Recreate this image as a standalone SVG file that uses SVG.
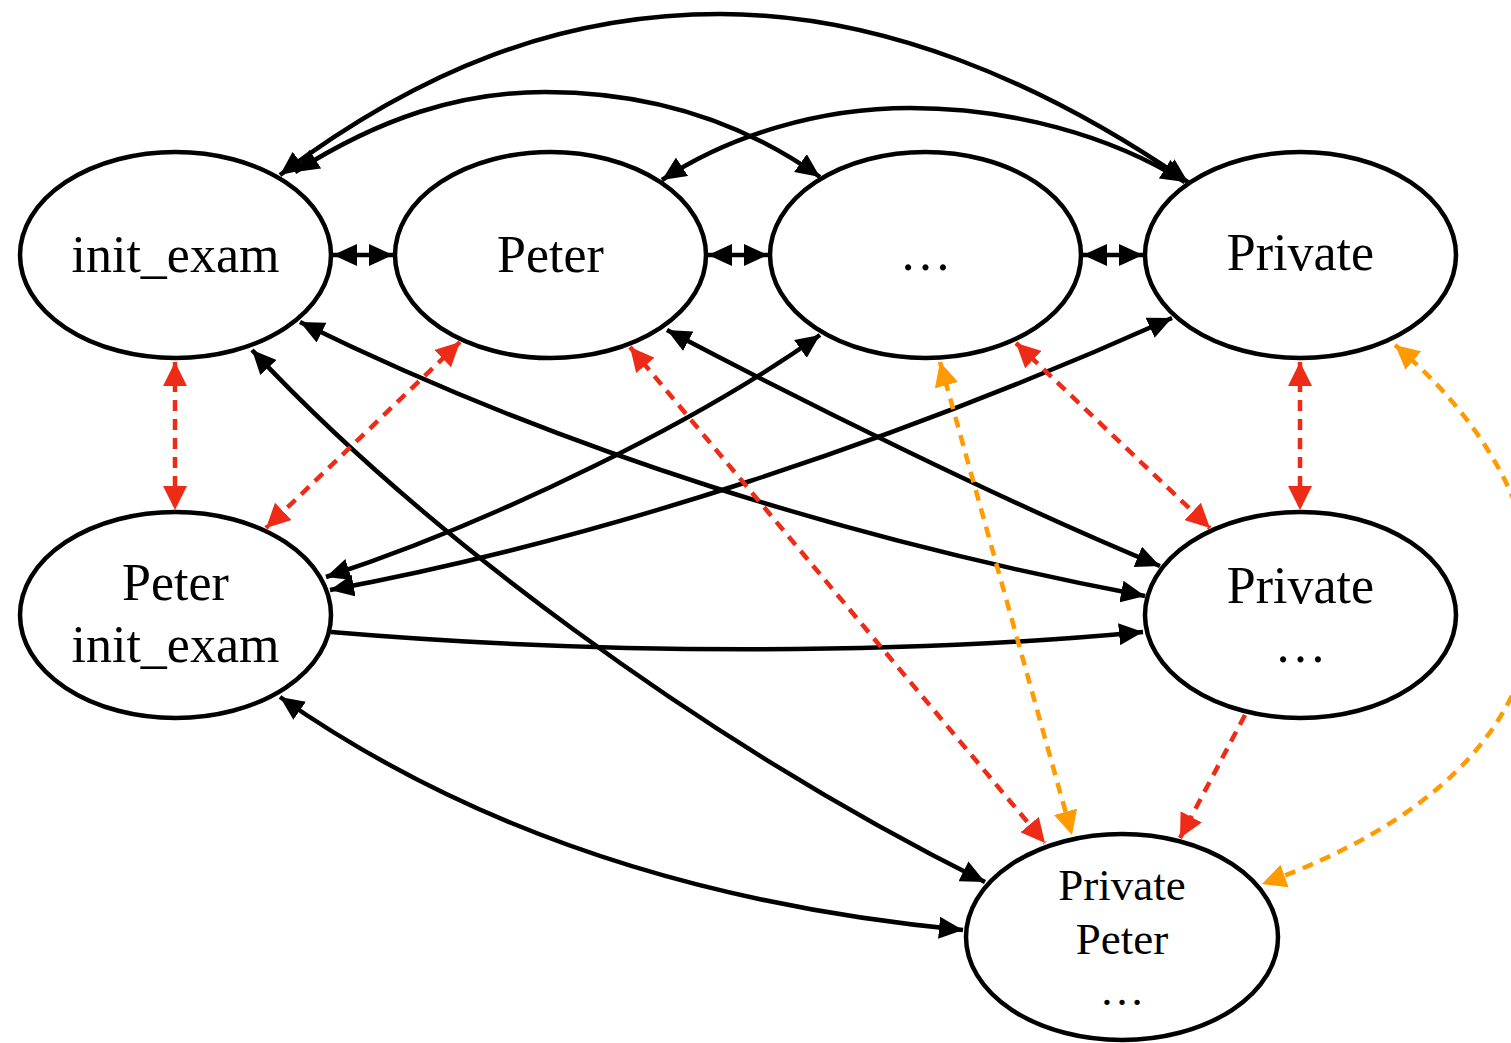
<svg xmlns="http://www.w3.org/2000/svg" width="1511" height="1043" viewBox="0 0 1511 1043">
  <style>
    .node ellipse { fill: #ffffff; stroke: #000000; stroke-width: 4.5; }
    .node text { font-family: "Liberation Serif", "Times New Roman", serif; fill: #000000; text-anchor: middle; }
    .big { font-size: 52px; }
    .small { font-size: 45px; }
    .solid { fill: none; stroke: #000000; stroke-width: 4.5; }
    .red { fill: none; stroke: #EE2B16; stroke-width: 4.5; stroke-dasharray: 11 8; }
    .orange { fill: none; stroke: #FF9A00; stroke-width: 4.5; stroke-dasharray: 11 8; }
  </style>
  <defs>
    <marker id="ah-black" markerUnits="userSpaceOnUse" markerWidth="25" markerHeight="22" refX="24" refY="11" orient="auto-start-reverse">
      <path d="M0,0 L24,11 L0,22 z" fill="#000000"/>
    </marker>
    <marker id="ah-red" markerUnits="userSpaceOnUse" markerWidth="25" markerHeight="24" refX="24" refY="12" orient="auto-start-reverse">
      <path d="M0,0 L24,12 L0,24 z" fill="#EE2B16"/>
    </marker>
    <marker id="ah-orange" markerUnits="userSpaceOnUse" markerWidth="25" markerHeight="24" refX="24" refY="12" orient="auto-start-reverse">
      <path d="M0,0 L24,12 L0,24 z" fill="#FF9A00"/>
    </marker>
  </defs>

  <rect width="1511" height="1043" fill="#ffffff"/>

  <!-- connectors -->
  <g id="connectors">
    <!-- neighbours on the top row -->
    <path class="solid" d="M333 255 L393 255" marker-start="url(#ah-black)" marker-end="url(#ah-black)"/>
    <path class="solid" d="M708 255 L768 255" marker-start="url(#ah-black)" marker-end="url(#ah-black)"/>
    <path class="solid" d="M1083 255 L1143 255" marker-start="url(#ah-black)" marker-end="url(#ah-black)"/>
    <!-- arcs over the top row -->
    <path class="solid" d="M280 175 C420 70 560 14 720 14 C880 14 1040 80 1188 182" marker-start="url(#ah-black)" marker-end="url(#ah-black)"/>
    <path class="solid" d="M295 172 C380 118 460 92 545 92 C650 92 740 120 820 177" marker-start="url(#ah-black)" marker-end="url(#ah-black)"/>
    <path class="solid" d="M662 180 C730 135 820 108 910 108 C1010 108 1110 135 1185 182" marker-start="url(#ah-black)" marker-end="url(#ah-black)"/>
    <!-- crossing links -->
    <path class="solid" d="M300 322 C560 450 850 540 1145 596" marker-start="url(#ah-black)" marker-end="url(#ah-black)"/>
    <path class="solid" d="M252 350 C420 530 700 740 985 882" marker-start="url(#ah-black)" marker-end="url(#ah-black)"/>
    <path class="solid" d="M667 330 C800 400 1000 500 1160 566" marker-start="url(#ah-black)" marker-end="url(#ah-black)"/>
    <path class="solid" d="M326 577 C500 520 700 420 820 335" marker-start="url(#ah-black)" marker-end="url(#ah-black)"/>
    <path class="solid" d="M330 590 C600 540 900 440 1172 318" marker-start="url(#ah-black)" marker-end="url(#ah-black)"/>
    <path class="solid" d="M331 632 C600 655 900 655 1143 632" marker-end="url(#ah-black)"/>
    <path class="solid" d="M280 697 C470 830 700 905 963 930" marker-start="url(#ah-black)" marker-end="url(#ah-black)"/>
    <!-- red dashed links -->
    <path class="red" d="M175 362 L175 510" marker-start="url(#ah-red)" marker-end="url(#ah-red)"/>
    <path class="red" d="M460 342 L266 528" marker-start="url(#ah-red)" marker-end="url(#ah-red)"/>
    <path class="red" d="M630 347 L1045 843" marker-start="url(#ah-red)" marker-end="url(#ah-red)"/>
    <path class="red" d="M1016 343 L1210 528" marker-start="url(#ah-red)" marker-end="url(#ah-red)"/>
    <path class="red" d="M1300 362 L1300 510" marker-start="url(#ah-red)" marker-end="url(#ah-red)"/>
    <path class="red" d="M1245 715 L1180 838" marker-end="url(#ah-red)"/>
    <!-- orange dashed links -->
    <path class="orange" d="M940 362 L1072 835" marker-start="url(#ah-orange)" marker-end="url(#ah-orange)"/>
    <path class="orange" d="M1395 345 C1590 510 1610 760 1262 884" marker-start="url(#ah-orange)" marker-end="url(#ah-orange)"/>
  </g>

  <!-- nodes -->
  <g id="node-init-exam" class="node">
    <ellipse cx="175.5" cy="255" rx="155.5" ry="103"/>
    <text class="big" x="175.5" y="272">init_exam</text>
  </g>
  <g id="node-peter" class="node">
    <ellipse cx="550.5" cy="255" rx="155.5" ry="103"/>
    <text class="big" x="550.5" y="272">Peter</text>
  </g>
  <g id="node-more" class="node">
    <ellipse cx="925.5" cy="255" rx="155.5" ry="103"/>
    <text class="big" x="925.5" y="270">…</text>
  </g>
  <g id="node-private" class="node">
    <ellipse cx="1300.5" cy="255" rx="155.5" ry="103"/>
    <text class="big" x="1300.5" y="270">Private</text>
  </g>
  <g id="node-peter-init-exam" class="node">
    <ellipse cx="175.5" cy="615" rx="155.5" ry="103"/>
    <text class="big" x="175.5" y="600">Peter</text>
    <text class="big" x="175.5" y="662">init_exam</text>
  </g>
  <g id="node-private-more" class="node">
    <ellipse cx="1300.5" cy="615" rx="155.5" ry="103"/>
    <text class="big" x="1300.5" y="603">Private</text>
    <text class="big" x="1300.5" y="662">…</text>
  </g>
  <g id="node-private-peter" class="node">
    <ellipse cx="1122" cy="937" rx="156" ry="103"/>
    <text class="small" x="1122" y="900">Private</text>
    <text class="small" x="1122" y="954">Peter</text>
    <text class="small" x="1122" y="1005">…</text>
  </g>
</svg>
